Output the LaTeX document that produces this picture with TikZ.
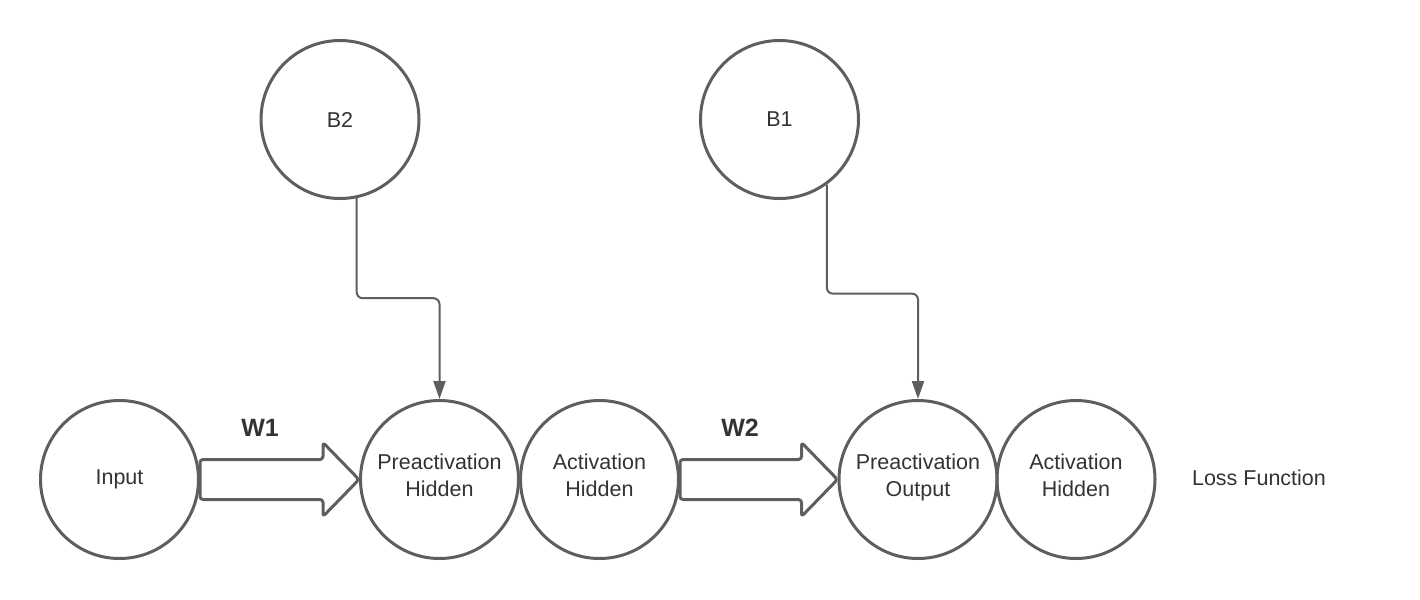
\documentclass[tikz,border=0pt]{standalone}
\usepackage{fontspec}
\setmainfont{Liberation Sans}
\usetikzlibrary{arrows.meta,calc}
\definecolor{linegray}{HTML}{5E5E5E}
\definecolor{textgray}{HTML}{333333}

\begin{document}
\begin{tikzpicture}[x=0.5pt, y=-0.5pt,
  unit/.style={circle, draw=linegray, line width=1.5pt, minimum size=79pt, inner sep=0pt,
    align=center, text=textgray, font=\fontsize{10.75}{13.5}\selectfont},
  twoline/.style={unit, text depth=4pt},
  weight/.style={draw=linegray, line width=1.5pt, rounded corners=1.5pt, line join=round},
  wlabel/.style={text=textgray, font=\fontsize{12.5}{15}\selectfont\bfseries},
  bias/.style={draw=linegray, line width=1pt, rounded corners=3pt,
    -{Triangle[length=9pt,width=6pt]}}]

\useasboundingbox (0,0) rectangle (1420,600);

%units
\node[unit]    (input) at (119.5,479.5) {Input};
\node[twoline] (ph)    at (439.5,479.5) {Preactivation\\Hidden};
\node[twoline] (ah)    at (599.5,479.5) {Activation\\Hidden};
\node[twoline] (po)    at (918,479.5)   {Preactivation\\Output};
\node[twoline] (ao)    at (1076,479.5)  {Activation\\Hidden};

%bias
\node[unit] (b2) at (340,119.5) {B2};
\node[unit] (b1) at (779.5,119.5) {B1};

%label
\node[text=textgray, font=\fontsize{10.75}{13.5}\selectfont] (loss) at (1259,478) {Loss Function};

%weights
\foreach \a/\b/\l in {input/ph/W1, ah/po/W2}
{
\draw[weight] ($(\a.east)+(0,-20)$) -- ($(\b.west)+(-36,-20)$) -- ($(\b.west)+(-36,-37)$)
  -- (\b.west) -- ($(\b.west)+(-36,37)$) -- ($(\b.west)+(-36,20)$) -- ($(\a.east)+(0,20)$) -- cycle;
\node[wlabel] (\l) at ($(\a.east)+(60,-52)$) {\l};
}

%bias links
\draw[bias] (b2.-78) -- ++(0,100) -| (ph.north);
\draw[bias] (b1.-54) -- ++(0,109) -| (po.north);

\end{tikzpicture}
\end{document}
